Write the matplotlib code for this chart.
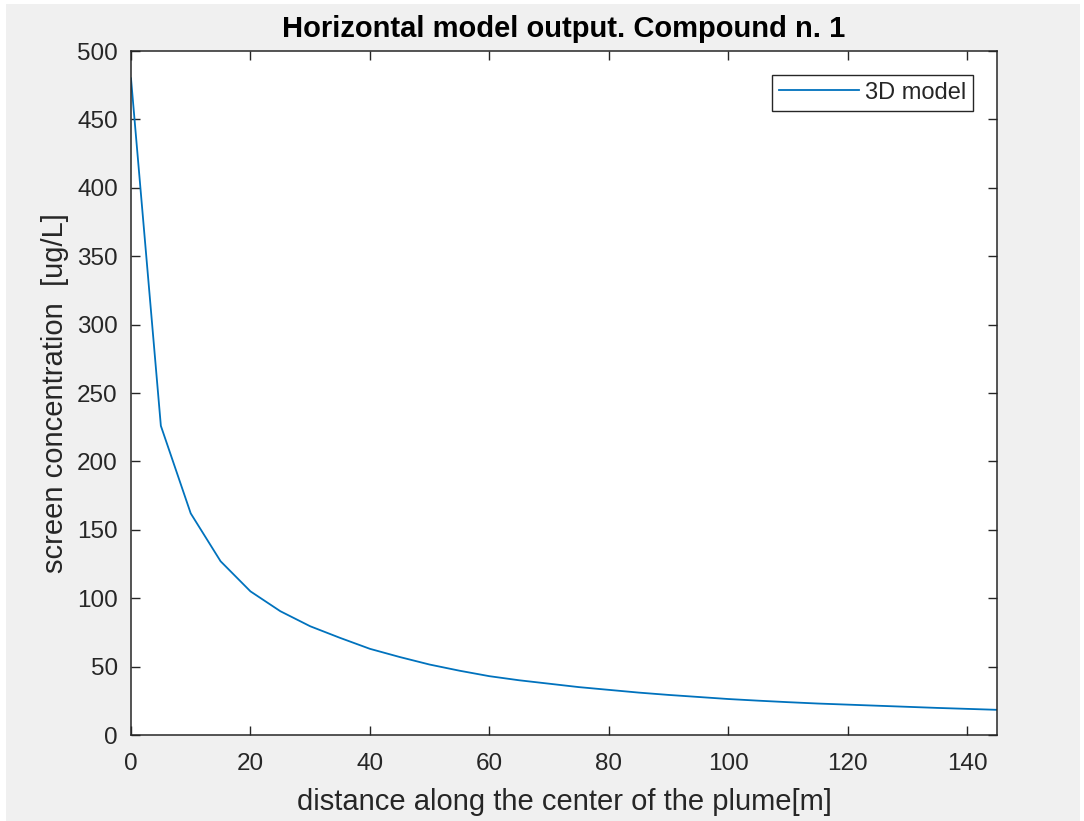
import numpy as np
import matplotlib
matplotlib.use("Agg")
import matplotlib.pyplot as plt
from matplotlib.patches import Rectangle

# data
distance = np.arange(0, 150, 5)
concentration = [480, 226, 162, 127, 105, 90.5, 79.5, 71, 63, 57,
                 51.5, 47, 43, 40, 37.5, 35, 33, 31, 29.3, 27.8,
                 26.3, 25.1, 24, 23, 22.2, 21.4, 20.6, 19.8, 19.1, 18.4]

plt.rcParams['font.family'] = ['Liberation Sans', 'DejaVu Sans']

W, H = 1084, 821
fig = plt.figure(figsize=(W / 100, H / 100), dpi=100, facecolor="white")
# grey window background with the thin white screenshot border
fig.patches.append(Rectangle((6 / W, 0), (1080 - 6) / W, (H - 4) / H,
                             transform=fig.transFigure, facecolor="#f0f0f0",
                             edgecolor="none", zorder=-10))

ax = fig.add_axes([131 / W, 1 - 735 / H, (997 - 131) / W, (735 - 51) / H])
ax.set_facecolor("white")

ax.plot(distance, concentration, color="#0072bd", lw=1.3, label="3D model")

ax.set_xlim(0, 145)
ax.set_ylim(0, 500)
ax.set_xticks(np.arange(0, 141, 20))
ax.set_yticks(np.arange(0, 501, 50))
ax.tick_params(direction="in", top=True, right=True, length=6.5, width=1,
               color="#262626", labelcolor="#262626", labelsize=17.5)
ax.tick_params(axis="x", pad=13)
ax.tick_params(axis="y", pad=9.5)
for s in ax.spines.values():
    s.set_color("#262626")
    s.set_linewidth(1.1)

ax.set_title("Horizontal model output. Compound n. 1", fontsize=21,
             fontweight="bold", color="black", pad=10)
ax.set_xlabel("distance along the center of the plume[m]", fontsize=21,
              color="#262626", labelpad=9)
ax.set_ylabel("screen concentration  [ug/L]", fontsize=21,
              color="#262626", labelpad=6)

leg = ax.legend(loc="upper right", fontsize=17, fancybox=False, framealpha=1,
                edgecolor="#262626", borderaxespad=1.0, borderpad=0.3,
                handlelength=3.4, handletextpad=0.25)
leg.get_frame().set_linewidth(1.0)
for t in leg.get_texts():
    t.set_color("#262626")

fig.savefig("out.png", dpi=100, facecolor=fig.get_facecolor())
